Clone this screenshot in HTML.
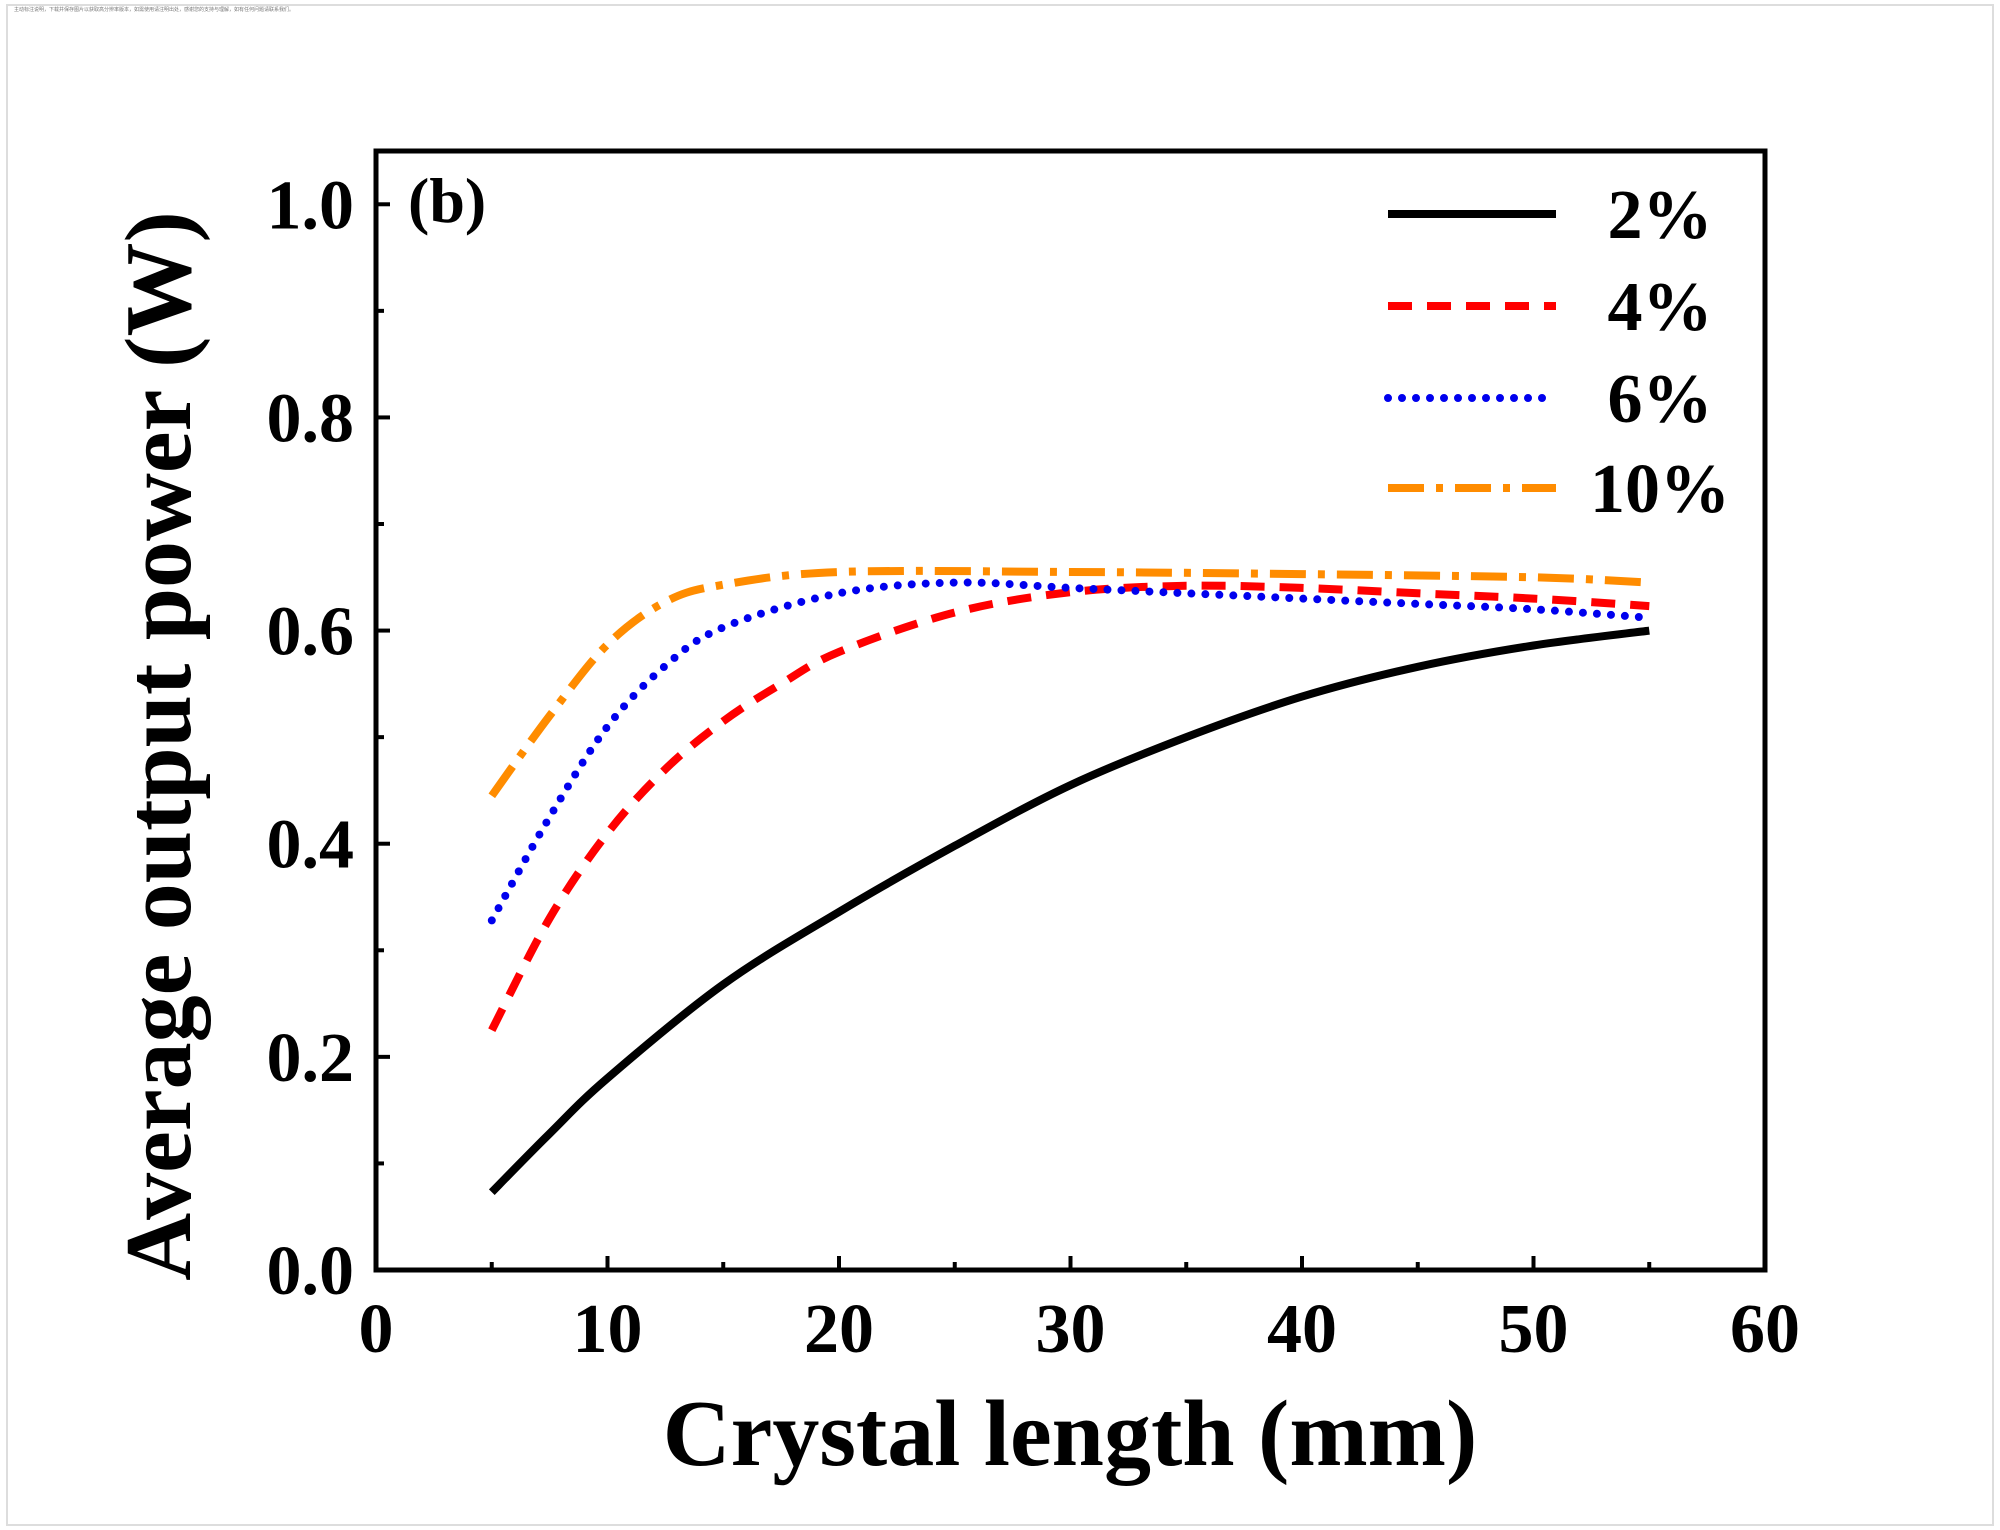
<!DOCTYPE html>
<html><head><meta charset="utf-8"><style>
html,body{margin:0;padding:0;background:#fff}
svg{display:block}
text{font-family:"Liberation Serif","Times New Roman",serif;font-weight:bold;fill:#000}
</style></head><body>
<svg id="chart" width="2000" height="1530" viewBox="0 0 2000 1530">
<rect x="7" y="5" width="1986" height="1520" fill="none" stroke="#ddd" stroke-width="2"/>
<text x="14" y="11" font-size="5" style="font-weight:normal;fill:#777;font-family:'Noto Sans CJK SC',sans-serif">主动标注说明，下载并保存图片以获取高分辨率版本，如需使用请注明出处，感谢您的支持与理解，如有任何问题请联系我们。</text>
<g id="plot"></g>
</svg>
<script>
const xTicks=[0,10,20,30,40,50,60];
const yTicks=[0.0,0.2,0.4,0.6,0.8,1.0];
const yTickLabels=["0.0","0.2","0.4","0.6","0.8","1.0"];
const seriesNames=["2%","4%","6%","10%"];
const x2=[5,7.5,10,15,20,25,30,35,40,45,50,55];
const y2=[0.073,0.128,0.18,0.268,0.336,0.398,0.455,0.50,0.538,0.566,0.586,0.60];
const x4=[5,7.5,10,12.5,15,17.5,20,25,30,35,40,45,50,55];
const y4=[0.225,0.33,0.41,0.47,0.515,0.55,0.58,0.617,0.636,0.642,0.64,0.635,0.63,0.623];
const x6=[5,7.5,10,12.5,15,20,25,30,35,40,45,50,55];
const y6=[0.328,0.425,0.51,0.567,0.603,0.635,0.645,0.64,0.635,0.63,0.625,0.62,0.612];
const x10=[5,7.5,10,12.5,15,20,30,40,50,55];
const y10=[0.445,0.52,0.587,0.627,0.643,0.655,0.655,0.653,0.65,0.645];
const L=376,R=1765,T=151,B=1270;
const sx=v=>L+(v-0)/(60-0)*(R-L);
const sy=v=>B-(v-0)/(1.05-0)*(B-T);
const NS="http://www.w3.org/2000/svg";
const g=document.getElementById('plot');
function el(t,a){const e=document.createElementNS(NS,t);for(const k in a)e.setAttribute(k,a[k]);g.appendChild(e);return e;}
function smooth(pts){
 let d='M'+pts[0][0].toFixed(1)+' '+pts[0][1].toFixed(1);
 for(let i=0;i<pts.length-1;i++){
  const p0=pts[Math.max(0,i-1)],p1=pts[i],p2=pts[i+1],p3=pts[Math.min(pts.length-1,i+2)];
  const c1=[p1[0]+(p2[0]-p0[0])/6,p1[1]+(p2[1]-p0[1])/6];
  const c2=[p2[0]-(p3[0]-p1[0])/6,p2[1]-(p3[1]-p1[1])/6];
  d+=' C'+c1[0].toFixed(1)+' '+c1[1].toFixed(1)+' '+c2[0].toFixed(1)+' '+c2[1].toFixed(1)+' '+p2[0].toFixed(1)+' '+p2[1].toFixed(1);
 }
 return d;
}
xTicks.forEach((v,i)=>{
 const t=el('line',{x1:sx(v),x2:sx(v),y1:B,y2:B-14,stroke:'#000','stroke-width':4});
 
 
 if(i<xTicks.length-1){const m=el('line',{x1:sx(v+5),x2:sx(v+5),y1:B,y2:B-8,stroke:'#000','stroke-width':4});
 
 }
 const tx=el('text',{x:sx(v),y:B+82,'text-anchor':'middle','font-size':70});
 tx.textContent=v;
 
 
});
yTicks.forEach((v,i)=>{
 const t=el('line',{x1:L,x2:L+14,y1:sy(v),y2:sy(v),stroke:'#000','stroke-width':4});
 
 
 if(i<yTicks.length-1){const m=el('line',{x1:L,x2:L+8,y1:sy(v+0.1),y2:sy(v+0.1),stroke:'#000','stroke-width':4});
 
 }
 const tx=el('text',{x:L-22,y:sy(v)+24,'text-anchor':'end','font-size':70});
 tx.textContent=yTickLabels[i];
 
 
});
const styles=[
 {c:'#000',d:'',w:8,cap:'butt'},
 {c:'#ff0000',d:'24 15',w:8,cap:'butt'},
 {c:'#0000ee',d:'0 14',w:8,cap:'round'},
 {c:'#ff8c00',d:'36 12 7 12',w:8,cap:'butt'}];
const xs=[x2,x4,x6,x10],ys=[y2,y4,y6,y10];
xs.forEach((xa,k)=>{
 const pts=xa.map((v,i)=>[sx(v),sy(ys[k][i])]);
 const s=styles[k];
 const p=el('path',{d:smooth(pts),fill:'none',stroke:s.c,'stroke-width':s.w,'stroke-dasharray':s.d,'stroke-linecap':s.cap,'stroke-linejoin':'round'});
 
 
});
const legY=[214,306,398,488];
seriesNames.forEach((n,k)=>{
 const s=styles[k];
 const ln=el('line',{x1:1388,x2:1556,y1:legY[k],y2:legY[k],stroke:s.c,'stroke-width':s.w,'stroke-dasharray':s.d,'stroke-linecap':s.cap});
 
 
 const t=el('text',{x:1660,y:legY[k]+24,'text-anchor':'middle','font-size':70});
 t.textContent=n;
 
 
});
const fr=el('rect',{x:L,y:T,width:R-L,height:B-T,fill:'none',stroke:'#000','stroke-width':5});


const pl=el('text',{x:408,y:222,'font-size':64});
pl.textContent='(b)';


const xt=el('text',{x:1070,y:1465,'text-anchor':'middle','font-size':94});
xt.textContent='Crystal length (mm)';


const yt=el('text',{x:0,y:0,'text-anchor':'middle','font-size':94,transform:'translate(190,746) rotate(-90)'});
yt.textContent='Average output power (W)';


</script>
</body></html>
